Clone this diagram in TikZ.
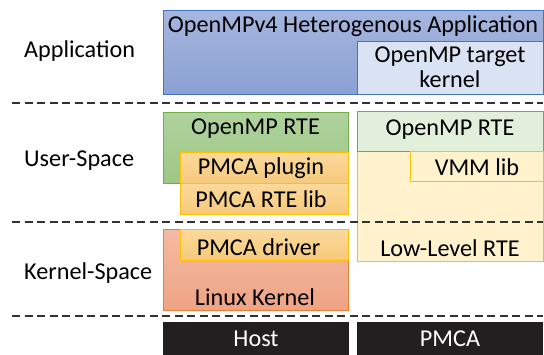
\documentclass[tikz,border=0pt]{standalone}
\usepackage{fontspec}
\setmainfont{Carlito}
\begin{document}
\begin{tikzpicture}[x=1pt,y=-1pt,
  every node/.style={font=\fontsize{24.2}{25}\selectfont},
  box/.style={draw, line width=1pt, inner sep=0pt, outer sep=0pt, anchor=north west},
  blueg/.style={box, draw={rgb,255:red,68;green,114;blue,196}, top color={rgb,255:red,166;green,182;blue,222}, bottom color={rgb,255:red,138;green,161;blue,211}},
  bluel/.style={box, draw={rgb,255:red,68;green,114;blue,196}, fill={rgb,255:red,218;green,227;blue,243}},
  greeng/.style={box, draw={rgb,255:red,112;green,173;blue,71}, top color={rgb,255:red,176;green,210;blue,158}, bottom color={rgb,255:red,157;green,199;blue,133}},
  greenl/.style={box, draw={rgb,255:red,112;green,173;blue,71}, fill={rgb,255:red,226;green,239;blue,218}},
  orangeg/.style={box, draw={rgb,255:red,255;green,192;blue,0}, top color={rgb,255:red,251;green,217;blue,157}, bottom color={rgb,255:red,247;green,202;blue,122}},
  yellowl/.style={box, draw={rgb,255:red,255;green,192;blue,0}, fill={rgb,255:red,255;green,242;blue,204}},
  redg/.style={box, draw={rgb,255:red,237;green,125;blue,49}, top color={rgb,255:red,243;green,187;blue,162}, bottom color={rgb,255:red,239;green,163;blue,133}},
  blk/.style={box, draw=none, fill={rgb,255:red,35;green,31;blue,32}},
  txt/.style={inner sep=0pt, align=center},
  wtxt/.style={txt, text=white},
  lbl/.style={inner sep=0pt, anchor=west},
  sep/.style={draw={rgb,255:red,50;green,50;blue,50}, line width=2pt, dash pattern=on 8pt off 4.5pt}
]
\useasboundingbox (0,0) rectangle (544,354);

% Application layer
\node[blueg, minimum width=380pt, minimum height=84pt] (app) at (163,10) {};
\node[bluel, minimum width=186pt, minimum height=53pt] (tk) at (357,41) {};
\node[txt] (apptxt) at (353,26) {OpenMPv4 Heterogenous Application};
\node[txt] (tktxt) at (450,67) {OpenMP target\\kernel};

% User space, host
\node[greeng, minimum width=185pt, minimum height=71pt] (rteh) at (163,112) {};
\node[orangeg, minimum width=168pt, minimum height=31pt] (plug) at (180,152) {};
\node[orangeg, minimum width=168pt, minimum height=31pt] (rtelib) at (180,183) {};
\node[txt] (rtehtxt) at (255.5,129) {OpenMP RTE};
\node[txt] (plugtxt) at (261,168) {PMCA plugin};
\node[txt] (rtelibtxt) at (261,199) {PMCA RTE lib};

% PMCA side
\node[yellowl, minimum width=186pt, minimum height=150pt] (llrte) at (357,111) {};
\node[greenl, minimum width=186pt, minimum height=40pt] (rtep) at (357,111) {};
\node[yellowl, minimum width=133pt, minimum height=30pt] (vmm) at (410,151) {};
\node[txt] (rteptxt) at (450,130) {OpenMP RTE};
\node[txt] (vmmtxt) at (477,167) {VMM lib};
\node[txt] (lltxt) at (450,248) {Low-Level RTE};

% Kernel space, host
\node[redg, minimum width=185pt, minimum height=81pt] (lk) at (163,229) {};
\node[orangeg, minimum width=168pt, minimum height=31pt] (drv) at (180,229) {};
\node[txt] (drvtxt) at (258.5,247) {PMCA driver};
\node[txt] (lktxt) at (255,297) {Linux Kernel};

% Bottom bars
\node[blk, minimum width=186pt, minimum height=33pt] (host) at (163,322) {};
\node[blk, minimum width=186pt, minimum height=33pt] (pmca) at (357,322) {};
\node[wtxt] (hosttxt) at (256,339) {Host};
\node[wtxt] (pmcatxt) at (450,339) {PMCA};

% Left labels
\node[lbl] (l1) at (24,51) {Application};
\node[lbl] (l2) at (24,161) {User-Space};
\node[lbl] (l3) at (24,273) {Kernel-Space};

% Separators
\coordinate (s1a) at (12,103); \coordinate (s1b) at (543,103);
\coordinate (s2a) at (12,222); \coordinate (s2b) at (543,222);
\coordinate (s3a) at (12,316); \coordinate (s3b) at (543,316);
\draw[sep] (s1a) -- (s1b);
\draw[sep] (s2a) -- (s2b);
\draw[sep] (s3a) -- (s3b);
\end{tikzpicture}
\end{document}
